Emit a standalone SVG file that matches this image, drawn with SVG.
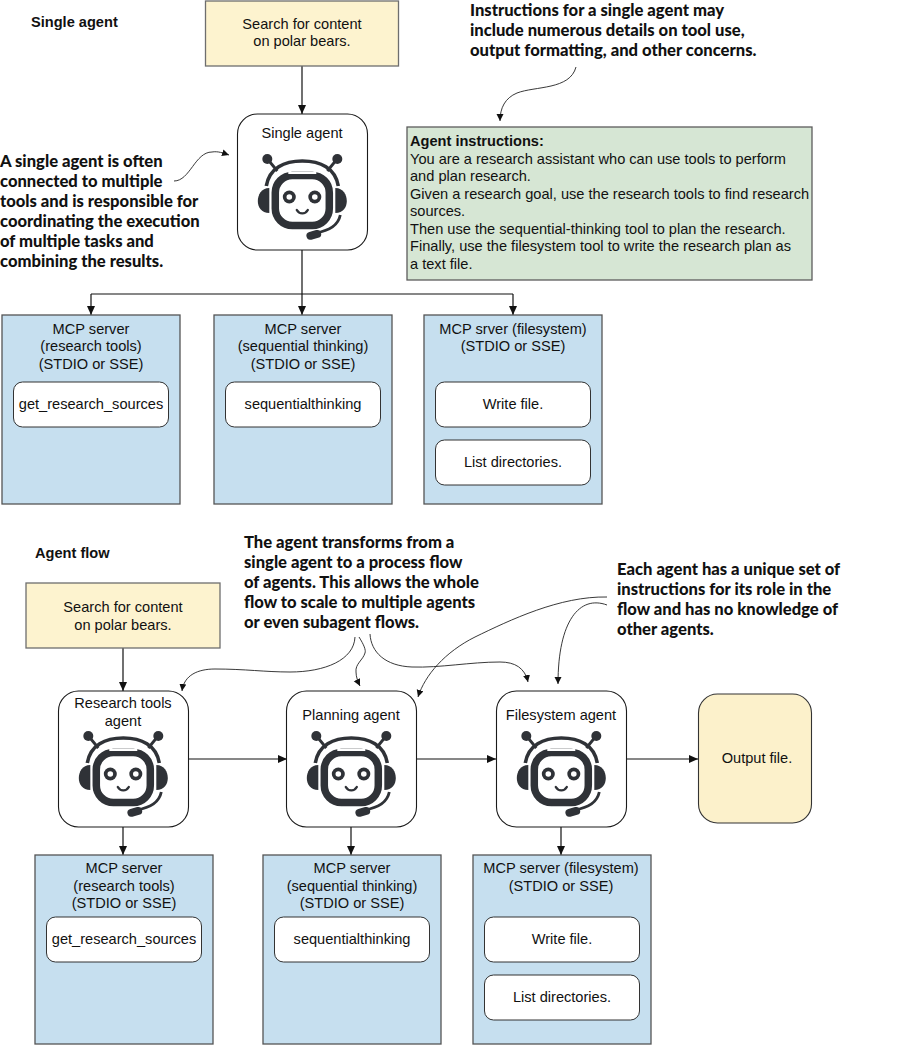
<svg xmlns="http://www.w3.org/2000/svg" width="913" height="1050" viewBox="0 0 913 1050">
<style>
text{font-family:"Liberation Sans",Arial,sans-serif;font-size:14.6px;fill:#111}
.c{text-anchor:middle}
.h{font-weight:700;font-size:14.6px}
.n{font-family:Lato,"Liberation Sans",sans-serif;font-weight:900;font-size:16.6px;fill:#111}
.y{fill:#fdf3cf;stroke:#6e6e6e;stroke-width:1.3}
.g{fill:#d6e6d4;stroke:#5c5c5c;stroke-width:1.3}
.b{fill:#c6dfef;stroke:#555;stroke-width:1.3}
.a{fill:#fff;stroke:#1a1a1a;stroke-width:1.1}
.t{fill:#fff;stroke:#333;stroke-width:1}
.o{fill:#fcf1cb;stroke:#333;stroke-width:1.1}
.l{fill:none;stroke:#111;stroke-width:1.2}
.k{fill:none;stroke:#222;stroke-width:.9}
</style>
<defs>
<marker id="ar" markerWidth="10" markerHeight="8" refX="9" refY="4" orient="auto" markerUnits="userSpaceOnUse"><path d="M0 0L9 4L0 8Z" fill="#111"/></marker>
<marker id="as" markerWidth="8" markerHeight="8" refX="7" refY="3.500" orient="auto" markerUnits="userSpaceOnUse"><path d="M0 0L7 3.500L0 7Z" fill="#111"/></marker>
<symbol id="bot" overflow="visible" viewBox="-50 -50 100 100" width="100" height="100">
<g fill="none" stroke="#2f3237">
<path d="M-34-38L-25-27M34-38L25-27" stroke-width="2.8"/>
<path d="M-36-12C-33-30-18-37 0-37S33-30 36-12" stroke-width="3.6"/>
<rect x="-27" y="-22.500" width="54" height="50" rx="17" stroke-width="7.500"/>
<path d="M38 17C36 27 26 33 13 35" stroke-width="2.8"/>
<path d="M-5.500 12C-3 16.500 3 16.500 5.500 12" stroke-width="2.400" stroke-linecap="round"/>
</g>
<g fill="#2f3237">
<circle cx="-35" cy="-39" r="5"/><circle cx="35" cy="-39" r="5"/>
<path d="M-33-10C-41-10-44.500-3-44.500 3S-41 15-33 15Z"/>
<path d="M33-10C41-10 44.500-3 44.500 3S41 15 33 15Z"/>
<rect x="4" y="33" width="15" height="8" rx="4" transform="rotate(-15 11 37)"/>
<circle cx="-13" cy="-1" r="6.500"/><circle cx="12.500" cy="-1" r="6.500"/>
</g>
<circle cx="-13" cy="-1" r="2.800" fill="#fff"/><circle cx="12.500" cy="-1" r="2.800" fill="#fff"/>
<rect x="-14" y="-26" width="28" height="2" fill="#fff"/>
</symbol>
</defs>

<g id="connectors">
<path class="l" d="M302 64V114" marker-end="url(#ar)"/>
<path class="l" d="M302 250V315" marker-end="url(#ar)"/>
<path class="l" d="M91 294H513"/>
<path class="l" d="M91 294V315" marker-end="url(#ar)"/>
<path class="l" d="M513 294V315" marker-end="url(#ar)"/>
<path class="l" d="M123 648V691" marker-end="url(#ar)"/>
<path class="l" d="M188 759H287" marker-end="url(#ar)"/>
<path class="l" d="M416 759H496" marker-end="url(#ar)"/>
<path class="l" d="M626 759H698" marker-end="url(#ar)"/>
<path class="l" d="M123 827V855" marker-end="url(#ar)"/>
<path class="l" d="M351 827V855" marker-end="url(#ar)"/>
<path class="l" d="M561 827V855" marker-end="url(#ar)"/>
<path class="k" d="M174 181C190 181 195 152 212 152C218 151 223 153 229 155" marker-end="url(#as)"/>
<path class="k" d="M576 67C570 90 535 86 517 93C505 98 500 108 500 121" marker-end="url(#as)"/>
<path class="k" d="M355 637C354 660 325 672 290 672C265 672 245 669 215 669C198 669 184 675 182 691" marker-end="url(#as)"/>
<path class="k" d="M359 637C364 645 366 650 365 653C363 660 355 664 356 672C356 677 358 682 360 686" marker-end="url(#as)"/>
<path class="k" d="M370 634C371 652 385 666 412 667C440 668 470 662 500 662C515 662 525 668 528 682" marker-end="url(#as)"/>
<path class="k" d="M607 597C560 596 510 620 475 637C445 652 425 675 418 697" marker-end="url(#as)"/>
<path class="k" d="M607 605C580 595 558 620 558 684" marker-end="url(#as)"/>
</g>

<g id="single-label"><text class="h" x="31" y="27">Single agent</text></g>
<g id="search1"><rect class="y" x="205.500" y="1" width="193" height="65"/><text class="c" x="302" y="29">Search for content</text><text class="c" x="302" y="46">on polar bears.</text></g>
<g id="note-instructions"><text class="n" x="470" y="16">Instructions for a single agent may</text><text class="n" x="470" y="36">include numerous details on tool use,</text><text class="n" x="470" y="56">output formatting, and other concerns.</text></g>
<g id="agent-instructions"><rect class="g" x="407" y="127" width="405" height="153"/>
<text class="h" x="410" y="146">Agent instructions:</text>
<text x="410" y="164">You are a research assistant who can use tools to perform</text>
<text x="410" y="181">and plan research.</text>
<text x="410" y="199">Given a research goal, use the research tools to find research</text>
<text x="410" y="216">sources.</text>
<text x="410" y="234">Then use the sequential-thinking tool to plan the research.</text>
<text x="410" y="251">Finally, use the filesystem tool to write the research plan as</text>
<text x="410" y="269">a text file.</text></g>
<g id="note-single"><text class="n" x="0" y="167">A single agent is often</text><text class="n" x="0" y="187">connected to multiple</text><text class="n" x="0" y="207">tools and is responsible for</text><text class="n" x="0" y="227">coordinating the execution</text><text class="n" x="0" y="247">of multiple tasks and</text><text class="n" x="0" y="267">combining the results.</text></g>
<g id="single-agent"><rect class="a" x="237.500" y="114" width="130" height="136" rx="20"/><text class="c" x="302" y="138">Single agent</text><use href="#bot" x="252.300" y="148"/></g>

<g id="mcp1"><rect class="b" x="2" y="315" width="178" height="189"/><text class="c" x="91" y="334">MCP server</text><text class="c" x="91" y="351">(research tools)</text><text class="c" x="91" y="369">(STDIO or SSE)</text></g>
<g id="tool1"><rect class="t" x="13.500" y="382" width="155" height="45" rx="9"/><text class="c" x="91" y="409">get_research_sources</text></g>
<g id="mcp2"><rect class="b" x="214" y="315" width="178" height="189"/><text class="c" x="303" y="334">MCP server</text><text class="c" x="303" y="351">(sequential thinking)</text><text class="c" x="303" y="369">(STDIO or SSE)</text></g>
<g id="tool2"><rect class="t" x="225.500" y="382" width="155" height="45" rx="9"/><text class="c" x="303" y="409">sequentialthinking</text></g>
<g id="mcp3"><rect class="b" x="424" y="315" width="178" height="189"/><text class="c" x="513" y="334">MCP srver (filesystem)</text><text class="c" x="513" y="351">(STDIO or SSE)</text></g>
<g id="tool3"><rect class="t" x="435.500" y="382" width="155" height="45" rx="9"/><text class="c" x="513" y="409">Write file.</text></g>
<g id="tool4"><rect class="t" x="435.500" y="440" width="155" height="45" rx="9"/><text class="c" x="513" y="467">List directories.</text></g>

<g id="flow-label"><text class="h" x="35" y="558">Agent flow</text></g>
<g id="note-flow"><text class="n" x="244" y="548">The agent transforms from a</text><text class="n" x="244" y="568">single agent to a process flow</text><text class="n" x="244" y="588">of agents. This allows the whole</text><text class="n" x="244" y="608">flow to scale to multiple agents</text><text class="n" x="244" y="628">or even subagent flows.</text></g>
<g id="note-each"><text class="n" x="617" y="575">Each agent has a unique set of</text><text class="n" x="617" y="595">instructions for its role in the</text><text class="n" x="617" y="615">flow and has no knowledge of</text><text class="n" x="617" y="635">other agents.</text></g>
<g id="search2"><rect class="y" x="26" y="583" width="194" height="65"/><text class="c" x="123" y="612">Search for content</text><text class="c" x="123" y="630">on polar bears.</text></g>

<g id="research-agent"><rect class="a" x="58.500" y="691" width="130" height="136" rx="20"/><text class="c" x="123" y="708">Research tools</text><text class="c" x="123" y="726">agent</text><use href="#bot" x="73.300" y="725"/></g>
<g id="planning-agent"><rect class="a" x="286.500" y="691" width="130" height="136" rx="20"/><text class="c" x="351" y="720">Planning agent</text><use href="#bot" x="301.300" y="725"/></g>
<g id="filesystem-agent"><rect class="a" x="496.500" y="691" width="130" height="136" rx="20"/><text class="c" x="561" y="720">Filesystem agent</text><use href="#bot" x="511.300" y="725"/></g>
<g id="output"><rect class="o" x="698.500" y="694" width="113" height="129" rx="19"/><text class="c" x="757" y="763">Output file.</text></g>

<g id="mcp4"><rect class="b" x="35" y="855" width="178" height="189"/><text class="c" x="124" y="873">MCP server</text><text class="c" x="124" y="891">(research tools)</text><text class="c" x="124" y="908">(STDIO or SSE)</text></g>
<g id="tool5"><rect class="t" x="46.500" y="917" width="155" height="45" rx="9"/><text class="c" x="124" y="944">get_research_sources</text></g>
<g id="mcp5"><rect class="b" x="263" y="855" width="178" height="189"/><text class="c" x="352" y="873">MCP server</text><text class="c" x="352" y="891">(sequential thinking)</text><text class="c" x="352" y="908">(STDIO or SSE)</text></g>
<g id="tool6"><rect class="t" x="274.500" y="917" width="155" height="45" rx="9"/><text class="c" x="352" y="944">sequentialthinking</text></g>
<g id="mcp6"><rect class="b" x="473" y="855" width="178" height="189"/><text class="c" x="561" y="873">MCP server (filesystem)</text><text class="c" x="561" y="891">(STDIO or SSE)</text></g>
<g id="tool7"><rect class="t" x="484.500" y="917" width="155" height="45" rx="9"/><text class="c" x="562" y="944">Write file.</text></g>
<g id="tool8"><rect class="t" x="484.500" y="975" width="155" height="45" rx="9"/><text class="c" x="562" y="1002">List directories.</text></g>
</svg>
